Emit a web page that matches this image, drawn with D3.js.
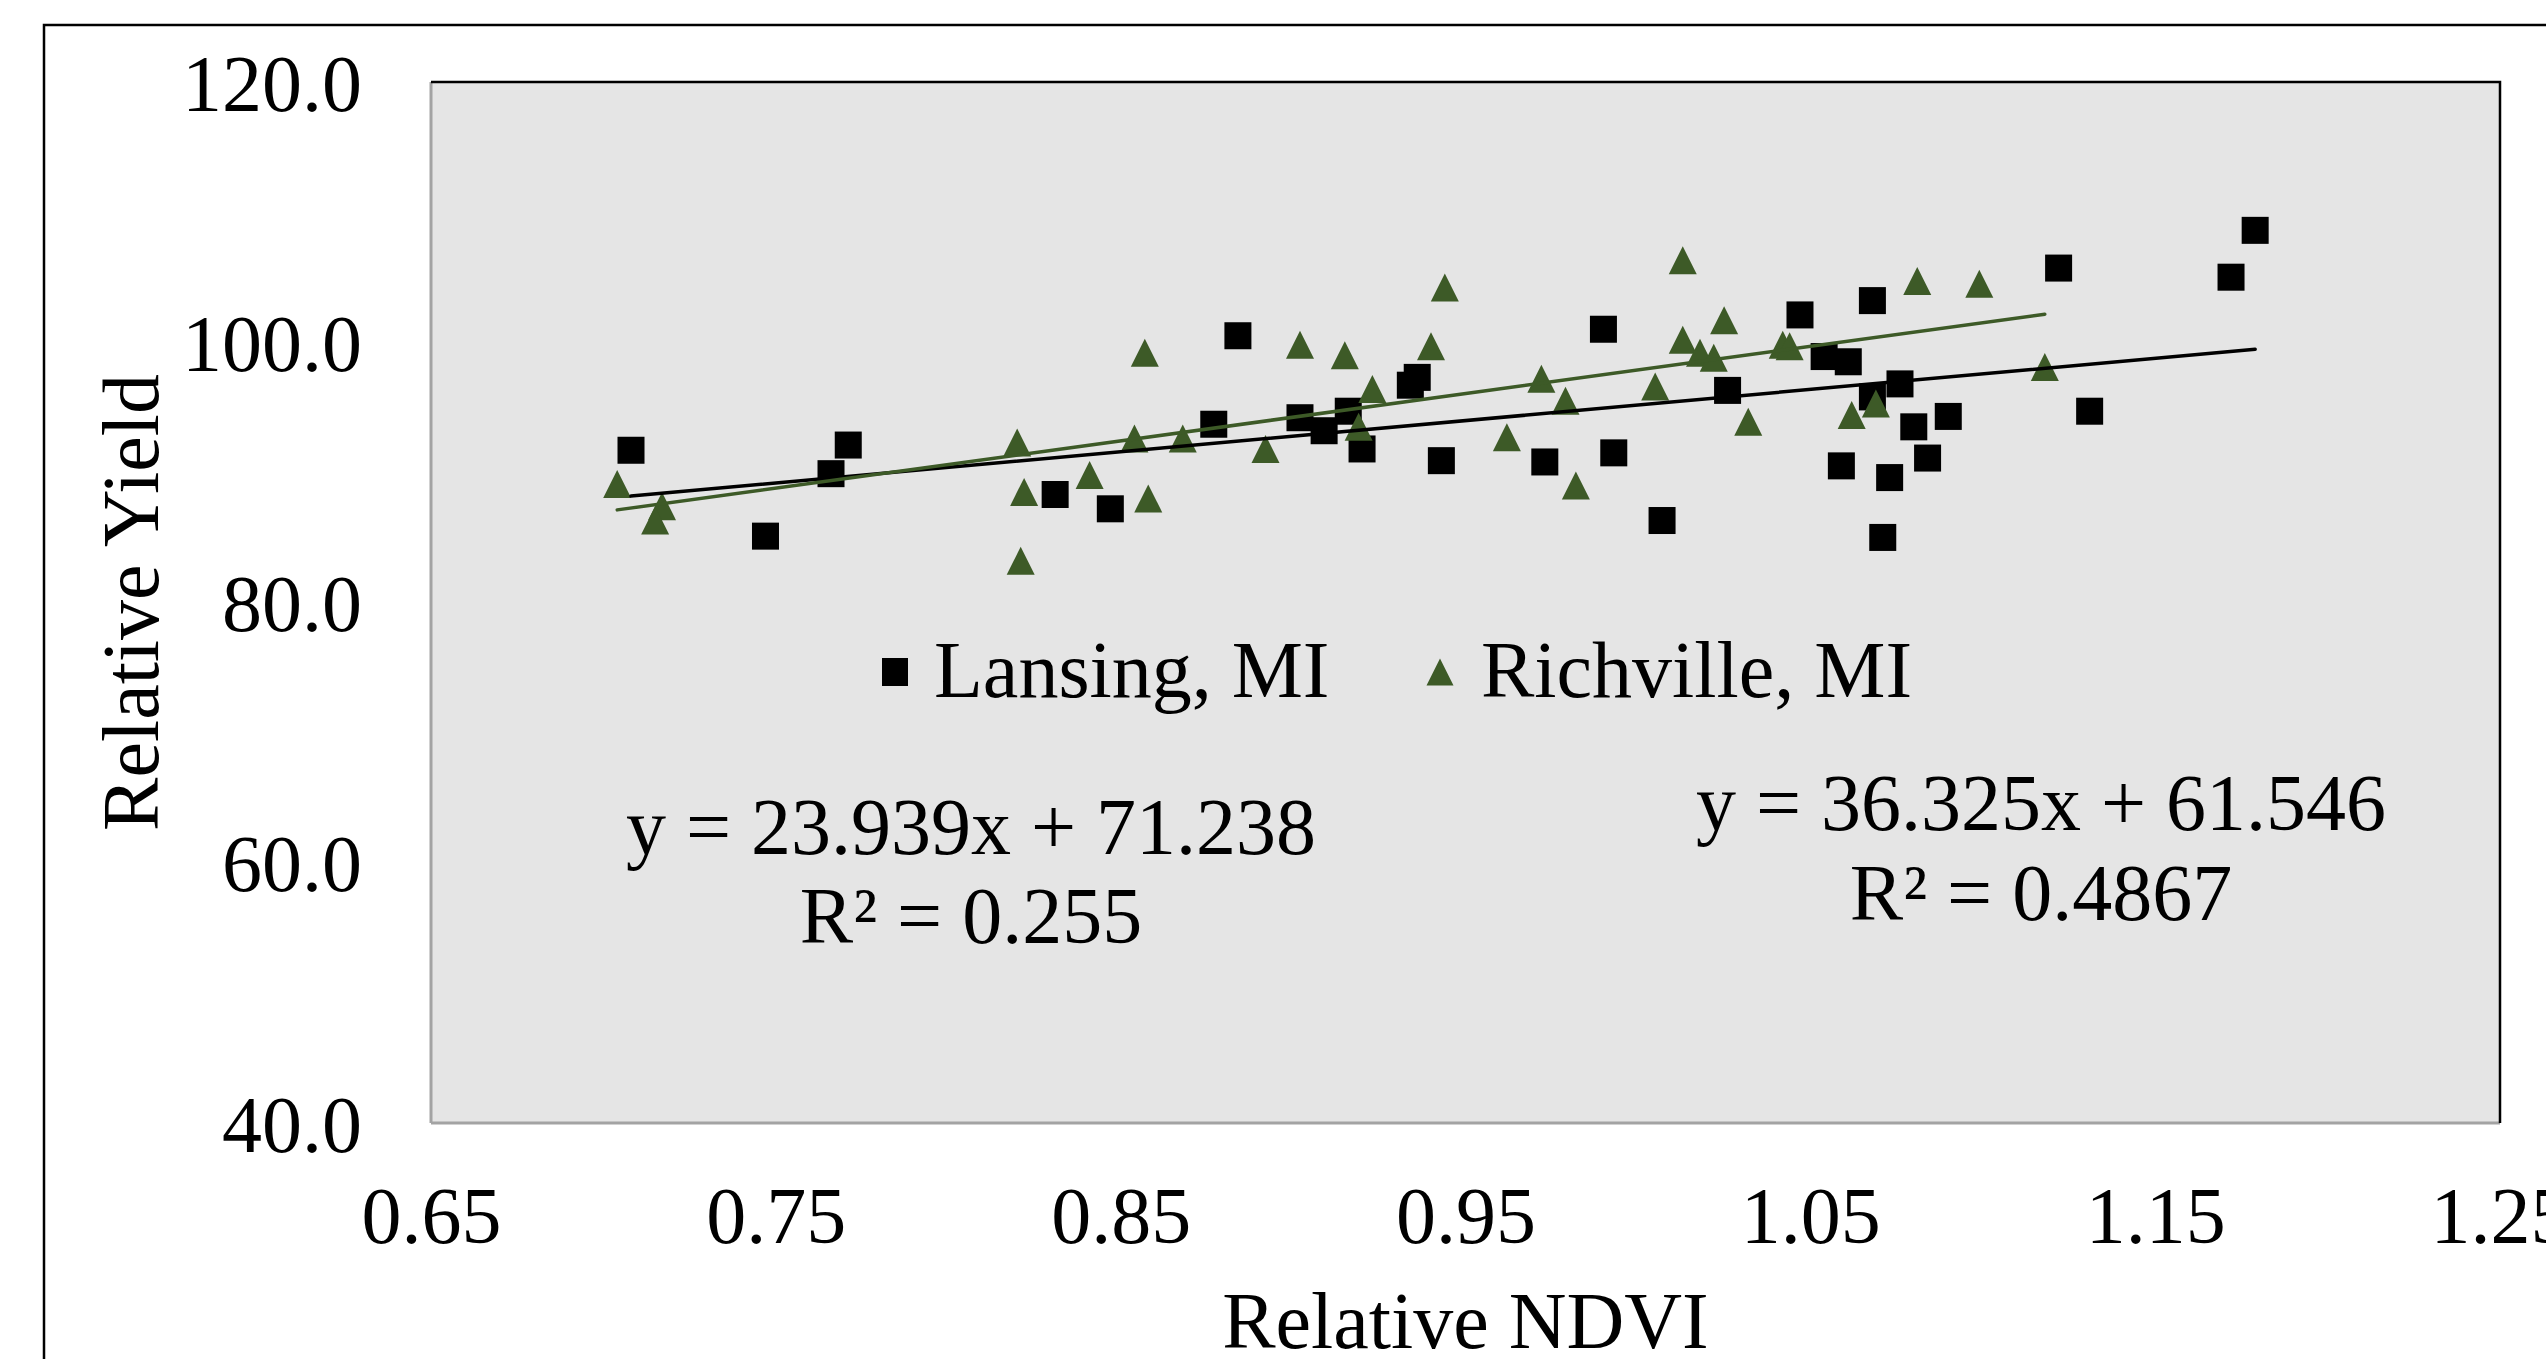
<!DOCTYPE html>
<html>
<head>
<meta charset="utf-8">
<script src="https://cdn.jsdelivr.net/npm/d3@7"></script>
<style>
  html, body { margin: 0; padding: 0; background: #fff; }
  svg { display: block; }
  text { font-family: "Liberation Serif", "Times New Roman", serif; fill: #000; }
</style>
</head>
<body>
<div id="chart"></div>
<script>
// Lansing, MI (squares)
const lansingX = [0.708, 0.771, 0.766, 0.747, 0.831, 0.847, 0.884, 0.877, 0.902, 0.909,
  0.916, 0.920, 0.934, 0.936, 0.943, 0.973, 0.990, 0.993, 1.007, 1.026,
  1.047, 1.054, 1.061, 1.068, 1.068, 1.076, 1.080, 1.090, 1.059, 1.073,
  1.084, 1.071, 1.122, 1.131, 1.172, 1.179];
const lansingY = [91.7, 92.1, 89.9, 85.1, 88.3, 87.2, 100.5, 93.7, 94.2, 93.2,
  94.7, 91.8, 96.7, 97.3, 90.9, 90.8, 101.0, 91.5, 86.3, 96.3,
  102.1, 98.9, 98.5, 103.2, 95.8, 96.8, 93.5, 94.3, 90.5, 89.6,
  91.1, 85.0, 105.7, 94.7, 105.0, 108.6];

// Richville, MI (triangles)
const richvilleX = [0.704, 0.717, 0.715, 0.820, 0.822, 0.821, 0.841, 0.857, 0.854, 0.858,
  0.868, 0.892, 0.902, 0.915, 0.923, 0.919, 0.944, 0.940, 0.962, 0.972,
  0.979, 0.982, 1.013, 1.025, 1.013, 1.018, 1.022, 1.005, 1.032, 1.042,
  1.044, 1.062, 1.069, 1.081, 1.099, 1.118];
const richvilleY = [89.1, 87.4, 86.3, 92.3, 88.5, 83.2, 89.8, 99.2, 92.6, 88.0,
  92.6, 91.8, 99.8, 99.0, 96.4, 93.5, 104.2, 99.7, 92.7, 97.2,
  95.5, 89.0, 106.3, 101.7, 100.2, 99.2, 98.8, 96.6, 93.9, 99.8,
  99.7, 94.4, 95.3, 104.7, 104.5, 98.1];

// linear trendlines as printed on the chart
const lansingFit = { slope: 23.939, intercept: 71.238, r2: "0.255" };
const richvilleFit = { slope: 36.325, intercept: 61.546, r2: "0.4867" };

const xTicks = [0.65, 0.75, 0.85, 0.95, 1.05, 1.15, 1.25];
const yTicks = [40, 60, 80, 100, 120];

const seriesNames = ["Lansing, MI", "Richville, MI"];
const green = "#3d5a27";

const width = 2546, height = 1359;
const plot = { left: 431, top: 82, right: 2500, bottom: 1123 };

const svg = d3.select("#chart").append("svg")
  .attr("width", width)
  .attr("height", height);

// outer chart frame (runs off the right and bottom edge)
svg.append("rect")
  .attr("x", 44).attr("y", 25)
  .attr("width", 2700).attr("height", 1500)
  .attr("fill", "#fff")
  .attr("stroke", "#000")
  .attr("stroke-width", 2.5);

const x = d3.scaleLinear().domain([0.65, 1.25]).range([plot.left, plot.right]);
const y = d3.scaleLinear().domain([40, 120]).range([plot.bottom, plot.top]);

// plot area
svg.append("rect")
  .attr("x", plot.left).attr("y", plot.top)
  .attr("width", plot.right - plot.left)
  .attr("height", plot.bottom - plot.top)
  .attr("fill", "#e5e5e5");
svg.append("path")
  .attr("d", `M${plot.left},${plot.bottom}V${plot.top}`)
  .attr("stroke", "#a3a3a3").attr("stroke-width", 3).attr("fill", "none");
svg.append("path")
  .attr("d", `M${plot.left},${plot.bottom}H${plot.right}`)
  .attr("stroke", "#a3a3a3").attr("stroke-width", 3).attr("fill", "none");
svg.append("path")
  .attr("d", `M${plot.left},${plot.top}H${plot.right}V${plot.bottom}`)
  .attr("stroke", "#000").attr("stroke-width", 2.5).attr("fill", "none");

// axes (labels only)
const yAxis = svg.append("g")
  .attr("transform", `translate(${plot.left},0)`)
  .call(d3.axisLeft(y).tickValues(yTicks).tickFormat(d3.format(".1f")).tickSize(0).tickPadding(69));
yAxis.select(".domain").remove();
yAxis.selectAll("text")
  .attr("dy", "0.35em")
  .style("font-size", "80px")
  .style("font-family", '"Liberation Serif", "Times New Roman", serif')
  .attr("fill", "#000");

const xAxis = svg.append("g")
  .attr("transform", `translate(0,${plot.bottom})`)
  .call(d3.axisBottom(x).tickValues(xTicks).tickFormat(d3.format(".2f")).tickSize(0).tickPadding(0));
xAxis.select(".domain").remove();
xAxis.selectAll("text")
  .attr("y", 120)
  .attr("dy", 0)
  .style("font-size", "80px")
  .style("font-family", '"Liberation Serif", "Times New Roman", serif')
  .attr("fill", "#000");

// axis titles
svg.append("text")
  .attr("x", (plot.left + plot.right) / 2)
  .attr("y", 1348)
  .attr("text-anchor", "middle")
  .style("font-size", "80px")
  .text("Relative NDVI");

svg.append("text")
  .attr("transform", `translate(158,${(plot.top + plot.bottom) / 2}) rotate(-90)`)
  .attr("text-anchor", "middle")
  .style("font-size", "80px")
  .text("Relative Yield");

// markers
const sq = 27;
function triangle(cx, cy, w) {
  const h = w;
  return `M${cx},${cy - h / 2}L${cx + w / 2},${cy + h / 2}L${cx - w / 2},${cy + h / 2}Z`;
}

const lansing = lansingX.map((v, i) => ({ x: v, y: lansingY[i] }));
const richville = richvilleX.map((v, i) => ({ x: v, y: richvilleY[i] }));

svg.append("g").selectAll("rect")
  .data(lansing)
  .join("rect")
  .attr("x", d => x(d.x) - sq / 2)
  .attr("y", d => y(d.y) - sq / 2)
  .attr("width", sq)
  .attr("height", sq)
  .attr("fill", "#000");

svg.append("g").selectAll("path")
  .data(richville)
  .join("path")
  .attr("d", d => triangle(x(d.x), y(d.y), 28))
  .attr("fill", green);

// trendlines
function trend(data, fit, color) {
  const ext = d3.extent(data, d => d.x);
  const pts = ext.map(v => [x(v), y(fit.slope * v + fit.intercept)]);
  svg.append("path")
    .attr("d", d3.line()(pts))
    .attr("stroke", color)
    .attr("stroke-width", 3.5)
    .attr("stroke-linecap", "round")
    .attr("fill", "none");
}
trend(lansing, lansingFit, "#000");
trend(richville, richvilleFit, green);

// legend
const legend = svg.append("g");
legend.append("rect")
  .attr("x", 895 - 13).attr("y", 672 - 14)
  .attr("width", 26).attr("height", 28)
  .attr("fill", "#000");
legend.append("text")
  .attr("x", 934).attr("y", 697)
  .style("font-size", "80px")
  .text(seriesNames[0]);
legend.append("path")
  .attr("d", triangle(1440, 672, 27))
  .attr("fill", green);
legend.append("text")
  .attr("x", 1481).attr("y", 697)
  .style("font-size", "80px")
  .text(seriesNames[1]);

// equations
const fmt = v => d3.format(".3f")(v);
function equation(fit, cx, y1, y2) {
  svg.append("text")
    .attr("x", cx).attr("y", y1)
    .attr("text-anchor", "middle")
    .style("font-size", "80px")
    .text(`y = ${fmt(fit.slope)}x + ${fmt(fit.intercept)}`);
  svg.append("text")
    .attr("x", cx).attr("y", y2)
    .attr("text-anchor", "middle")
    .style("font-size", "80px")
    .text(`R² = ${fit.r2}`);
}
equation(lansingFit, 971, 854, 943);
equation(richvilleFit, 2041, 830, 920);
</script>
</body>
</html>
